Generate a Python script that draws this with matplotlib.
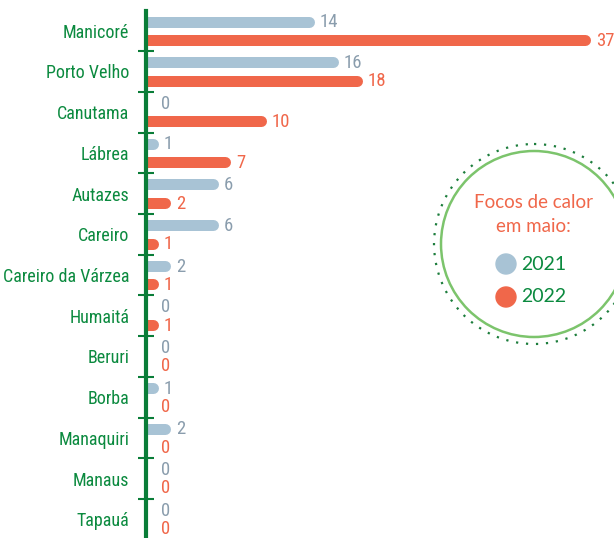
import matplotlib
matplotlib.use("Agg")
import matplotlib.pyplot as plt
from matplotlib import font_manager
from matplotlib.patches import Circle

# focos de calor em maio, por município
municipios = ["Manicoré", "Porto Velho", "Canutama", "Lábrea", "Autazes", "Careiro",
              "Careiro da Várzea", "Humaitá", "Beruri", "Borba", "Manaquiri",
              "Manaus", "Tapauá"]
focos_2021 = [14, 16, 0, 1, 6, 6, 2, 0, 0, 1, 2, 0, 0]
focos_2022 = [37, 18, 10, 7, 2, 1, 1, 1, 0, 0, 0, 0, 0]
anos = ["2021", "2022"]

cor_2021 = "#a8c3d5"
cor_2021_txt = "#8a9dad"
cor_2022 = "#f0674a"
verde = "#0b8a3f"
verde_eixo = "#0a7d38"

# pick a condensed face if there is one
fonts = [(f.name, f.stretch) for f in font_manager.fontManager.ttflist]
narrow = dict(family="DejaVu Sans", stretch="normal")
escala = 0.86
for nome in ["Liberation Sans Narrow", "Roboto Condensed", "Open Sans Condensed"]:
    if any(n == nome for n, _ in fonts):
        narrow = dict(family=nome, stretch="normal")
        escala = 1.0
        break
else:
    for nome in ["DejaVu Sans", "Noto Sans", "Open Sans", "Roboto"]:
        if any(n == nome and st in ("condensed", "semi-condensed", 500, 600)
               for n, st in fonts):
            narrow = dict(family=nome, stretch="condensed")
            escala = 1.0
            break

W, H = 614, 538
fig = plt.figure(figsize=(W / 100, H / 100), dpi=100)

px_unit = 12.0          # pixels per focus
left_px, top_px = 146, 11
ax = fig.add_axes([left_px / W, 0, (W - left_px) / W, (H - top_px) / H])
ax.set_xlim(0, (W - left_px) / px_unit)
ax.set_ylim(12.46, -0.486)

bar_px = 11
cap = (bar_px / 2) / px_unit
off = 0.226

for i, (a, b) in enumerate(zip(focos_2021, focos_2022)):
    for v, dy, c, tc in [(a, -off, cor_2021, cor_2021_txt), (b, off, cor_2022, cor_2022)]:
        y = i + dy
        if v > 0:
            ax.plot([0, v - cap], [y, y], color=c, lw=bar_px * 0.72,
                    solid_capstyle="round")
        ax.annotate(str(v), xy=(v, y), xytext=(4.3 if v > 0 else 10.5, -0.5),
                    textcoords="offset points", ha="left", va="center",
                    color=tc, fontsize=13.5 * escala, fontfamily=narrow["family"],
                    fontstretch=narrow["stretch"], annotation_clip=False)

for s in ["top", "right", "bottom"]:
    ax.spines[s].set_visible(False)
ax.spines["left"].set_color(verde_eixo)
ax.spines["left"].set_linewidth(3)
ax.set_xticks([])
ax.set_yticks(range(len(municipios)))
ax.set_yticklabels(municipios, fontfamily=narrow["family"], fontstretch=narrow["stretch"],
                   fontsize=13 * escala, color=verde)
ax.set_yticks([i + 0.5 for i in range(len(municipios) - 1)], minor=True)
ax.tick_params(axis="y", which="major", length=0, pad=12)
ax.tick_params(axis="y", which="minor", direction="inout", length=11.5,
               width=1.5, color=verde_eixo)

# legenda em círculo
lg = fig.add_axes([0, 0, 1, 1], zorder=3)
lg.set_xlim(0, W)
lg.set_ylim(H, 0)
lg.axis("off")
lg.add_patch(Circle((534, 244), 93, fill=False, ec="#7cc46c", lw=1.8))
lg.add_patch(Circle((534, 244), 100, fill=False, ec="#1c7d3c", lw=1.6,
                    ls=(0, (1, 3.5))))
lg.text(533, 203, "Focos de calor", ha="center", va="center", color=cor_2022,
        fontsize=13.5, family="Lato")
lg.text(533, 226, "em maio:", ha="center", va="center", color=cor_2022,
        fontsize=13.5, family="Lato")
for ano, c, y in zip(anos, [cor_2021, cor_2022], [264, 297]):
    lg.add_patch(Circle((506, y), 10, color=c))
    lg.text(521, y, ano, ha="left", va="center", color=verde, fontsize=14,
            family="Lato")

fig.savefig("out.png", dpi=100)
